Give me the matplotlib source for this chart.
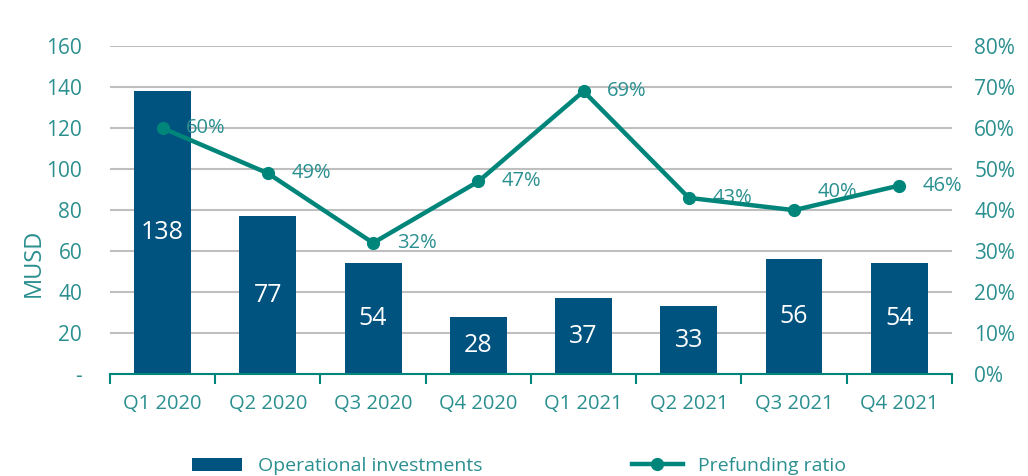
import matplotlib.pyplot as plt
import numpy as np

quarters = ['Q1 2020', 'Q2 2020', 'Q3 2020', 'Q4 2020',
            'Q1 2021', 'Q2 2021', 'Q3 2021', 'Q4 2021']
investments = [138, 77, 54, 28, 37, 33, 56, 54]
prefunding = [60, 49, 32, 47, 69, 43, 40, 46]

bar_color = '#00527f'
line_color = '#00857a'
text_color = '#2b8f8f'

plt.rcParams['font.family'] = ['Open Sans', 'DejaVu Sans']

fig = plt.figure(figsize=(10.28, 4.76), dpi=100)
ax = fig.add_axes([0.107, 0.214, 0.819, 0.689])
x = np.arange(len(quarters))

bars = ax.bar(x, investments, width=0.54, color=bar_color, zorder=2,
              label='Operational investments')
for xi, v in zip(x, investments):
    ax.text(xi, v / 2, str(v), ha='center', va='center', color='white',
            fontsize=18, zorder=3)

ax.set_ylim(0, 160)
ax.set_xlim(-0.5, len(quarters) - 0.5)
ax.set_yticks(range(0, 161, 20))
ax.set_yticklabels(['-'] + [str(v) for v in range(20, 161, 20)])
ax.yaxis.grid(True, color='#bfbfbf', linewidth=1.5, zorder=0)
ax.set_axisbelow(True)
ax.set_xticks(x)
ax.set_xticklabels(quarters)
ax.set_xticks(np.arange(-0.5, len(quarters)), minor=True)
ax.tick_params(axis='x', which='major', length=0, pad=14, colors=text_color, labelsize=14.5)
ax.tick_params(axis='x', which='minor', length=7, width=1.5, color=line_color)
ax.tick_params(axis='y', length=0, pad=20, colors=text_color, labelsize=15)
ax.set_ylabel('MUSD', color=text_color, fontsize=17)
ax.yaxis.set_label_coords(-0.076, 0.34)
for s in ['top', 'right', 'left']:
    ax.spines[s].set_visible(False)
ax.spines['bottom'].set_color(line_color)
ax.spines['bottom'].set_linewidth(1.5)

ax2 = ax.twinx()
line, = ax2.plot(x, prefunding, color=line_color, linewidth=3.2, marker='o',
                 markersize=8.5, zorder=4, label='Prefunding ratio')
# the 40% label sits a little above its point in the original
for xi, v in zip(x, prefunding):
    dy = 13 if v == 40 else 0
    ax2.annotate(f'{v}%', (xi, v), xytext=(17, dy), textcoords='offset points',
                 ha='left', va='center', color=text_color, fontsize=14.5)
ax2.set_ylim(0, 80)
ax2.set_yticks(range(0, 81, 10))
ax2.set_yticklabels([f'{v}%' for v in range(0, 81, 10)])
ax2.tick_params(axis='y', length=0, pad=16, colors=text_color, labelsize=15)
for s in ax2.spines.values():
    s.set_visible(False)

fig.legend(handles=[bars, line], loc='lower center', ncol=2,
           bbox_to_anchor=(0.505, -0.035), frameon=False, fontsize=14,
           labelcolor=text_color, columnspacing=7.7, handlelength=2.6)

fig.savefig('out.png', dpi=100)
